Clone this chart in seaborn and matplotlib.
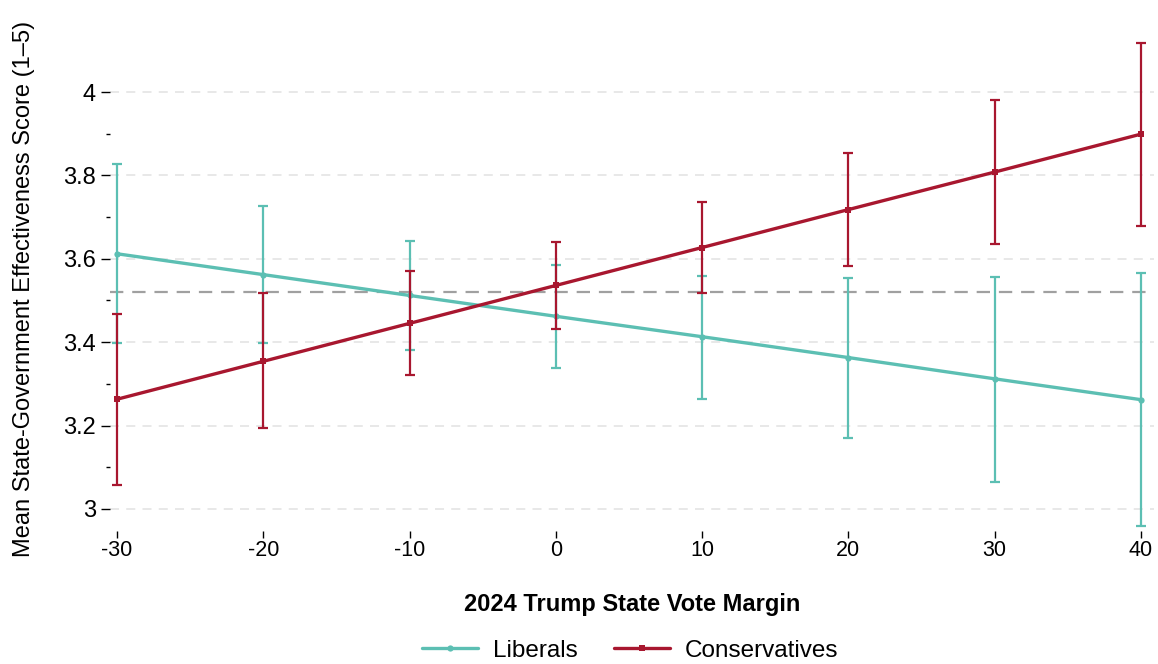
import numpy as np
import pandas as pd
import matplotlib
matplotlib.use("Agg")
import matplotlib.pyplot as plt
import seaborn as sns
from matplotlib.lines import Line2D

# Predicted means with 95% confidence intervals by state vote margin
margin = [-30, -20, -10, 0, 10, 20, 30, 40]

lib_mean = [3.612, 3.562, 3.512, 3.462, 3.413, 3.363, 3.312, 3.262]
lib_lo = [3.397, 3.397, 3.381, 3.338, 3.264, 3.171, 3.065, 2.958]
lib_hi = [3.828, 3.727, 3.643, 3.586, 3.559, 3.555, 3.557, 3.566]

con_mean = [3.263, 3.354, 3.445, 3.536, 3.627, 3.718, 3.808, 3.899]
con_lo = [3.058, 3.193, 3.320, 3.432, 3.518, 3.583, 3.635, 3.679]
con_hi = [3.468, 3.517, 3.571, 3.641, 3.735, 3.854, 3.982, 4.118]

overall_mean = 3.52
groups = ["Liberals", "Conservatives"]
colors = {"Liberals": "#5cbfb3", "Conservatives": "#a8172f"}
markers = {"Liberals": "o", "Conservatives": "s"}

sns.set_theme(style="white")
plt.rcParams["font.family"] = ["Liberation Sans", "DejaVu Sans"]
plt.rcParams["text.color"] = "black"
plt.rcParams["axes.labelcolor"] = "black"
plt.rcParams["xtick.color"] = "black"
plt.rcParams["ytick.color"] = "black"

df = pd.DataFrame({
    "margin": margin * 2,
    "mean": lib_mean + con_mean,
    "lo": lib_lo + con_lo,
    "hi": lib_hi + con_hi,
    "group": ["Liberals"] * len(margin) + ["Conservatives"] * len(margin),
})

fig = plt.figure(figsize=(11.58, 6.64), dpi=100)
ax = fig.add_axes([0.0947, 0.2003, 0.902, 0.7616])

# light dashed grid at the labelled values
for yv in np.arange(3.0, 4.01, 0.2):
    ax.axhline(yv, color="#e6e6e6", lw=1.3, ls=(0, (5, 4)), zorder=0)
ax.axhline(overall_mean, color="#a0a0a0", lw=1.6, ls=(0, (6, 4)), zorder=1)

for i, g in enumerate(groups):
    sub = df[df["group"] == g]
    ax.errorbar(sub["margin"], sub["mean"],
                yerr=[sub["mean"] - sub["lo"], sub["hi"] - sub["mean"]],
                fmt="none", ecolor=colors[g], elinewidth=1.6, capsize=3.3,
                capthick=1.6, zorder=2 + 2 * i)
    sns.lineplot(data=sub, x="margin", y="mean", color=colors[g],
                 marker=markers[g], markersize=4.5, markeredgewidth=0,
                 linewidth=2.4, ax=ax, zorder=3 + 2 * i, legend=False)

ax.set_xlim(-30.5, 40.9)
ax.set_ylim(2.947, 4.16)
ax.set_xticks(margin)
ax.set_xticklabels([str(m) for m in margin])
ax.set_yticks([3, 3.2, 3.4, 3.6, 3.8, 4])
ax.set_yticklabels(["3", "3.2", "3.4", "3.6", "3.8", "4"])
ax.set_yticks(np.arange(3.1, 4.0, 0.2), minor=True)

for s in ax.spines.values():
    s.set_visible(False)

ax.tick_params(axis="y", which="major", direction="out", length=6.5, width=1,
               labelsize=17, pad=3.5, left=True)
ax.tick_params(axis="y", which="minor", direction="out", length=3, width=1,
               left=True)
ax.tick_params(axis="x", which="major", direction="out", length=5, width=1,
               labelsize=15.5, pad=1.5, bottom=True)

ax.set_xlabel("2024 Trump State Vote Margin", fontsize=17, fontweight="bold")
ax.xaxis.set_label_coords(0.5, -0.1226)
ax.set_ylabel("Mean State-Government Effectiveness Score (1\u20135)",
              fontsize=17)
ax.yaxis.set_label_coords(-0.0715, 0.4785)

handles = [Line2D([0], [0], color=colors[g], lw=2.4, marker=markers[g],
                  markersize=4.5, markeredgewidth=0) for g in groups]
fig.legend(handles, groups, loc="center", bbox_to_anchor=(0.544, 0.0196),
           ncol=2, frameon=False, fontsize=17.5, handlelength=2.3,
           columnspacing=1.5, handletextpad=0.62)

fig.savefig("out.png", dpi=100)
